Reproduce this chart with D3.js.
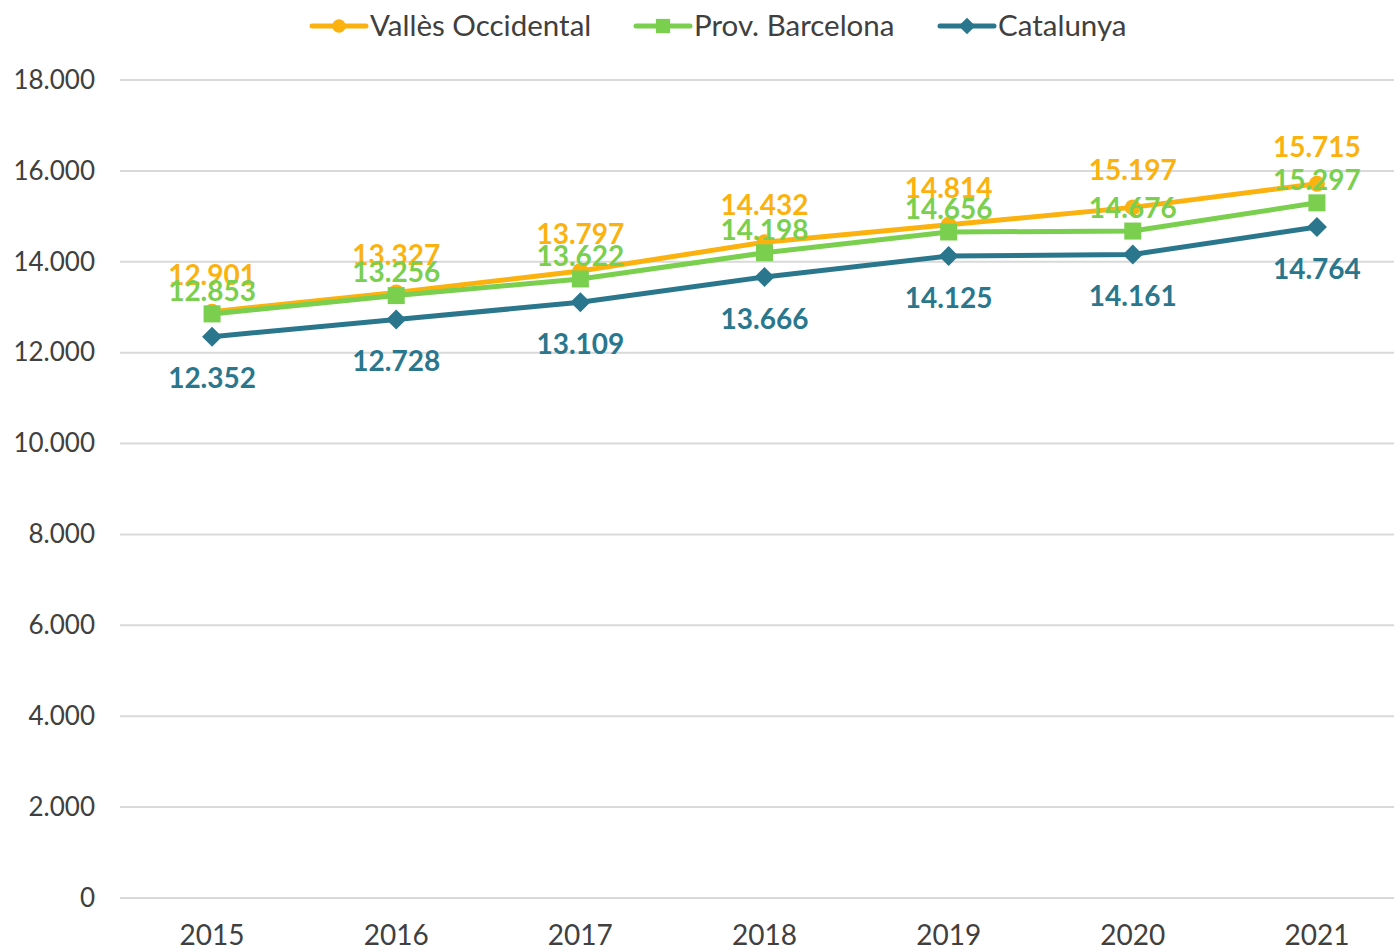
<!DOCTYPE html>
<html>
<head>
<meta charset="utf-8">
<script src="https://cdn.jsdelivr.net/npm/d3@7"></script>
<style>
  body { margin: 0; background: #fff; }
  text { font-family: Lato, "Open Sans", sans-serif; }
</style>
</head>
<body>
<script>
// data
const years = ["2015", "2016", "2017", "2018", "2019", "2020", "2021"];
const valles = [12901, 13327, 13797, 14432, 14814, 15197, 15715];
const barcelona = [12853, 13256, 13622, 14198, 14656, 14676, 15297];
const catalunya = [12352, 12728, 13109, 13666, 14125, 14161, 14764];
const yTicks = [0, 2000, 4000, 6000, 8000, 10000, 12000, 14000, 16000, 18000];

const series = [
  {name: "Vallès Occidental", values: valles, color: "#FBB20F", symbol: d3.symbolCircle, size: 200, rot: 0, dy: -37},
  {name: "Prov. Barcelona", values: barcelona, color: "#7BCF4F", symbol: d3.symbolSquare, size: 290, rot: 0, dy: -23},
  {name: "Catalunya", values: catalunya, color: "#2A778D", symbol: d3.symbolSquare, size: 200, rot: 45, dy: 42}
];

const canvWidth = 1394, canvHeight = 947;
const svg = d3.select("body").append("svg")
    .attr("width", canvWidth)
    .attr("height", canvHeight);

const fmt = d => d3.format(",")(d).replace(/,/g, ".");

const xScale = d3.scaleBand()
    .domain(years)
    .range([120, 1409]);

const yScale = d3.scaleLinear()
    .domain([0, 18000])
    .range([898, 80]);

// gridlines
svg.append("g").selectAll("line")
    .data(yTicks)
    .enter().append("line")
    .attr("x1", 120)
    .attr("x2", 1394)
    .attr("y1", d => yScale(d))
    .attr("y2", d => yScale(d))
    .attr("stroke", "#d9d9d9")
    .attr("stroke-width", 2);

// y axis labels
const yAxis = d3.axisLeft(yScale).tickValues(yTicks).tickFormat(fmt).tickSize(0).tickPadding(0);
const yg = svg.append("g")
    .attr("transform", "translate(95,0)")
    .call(yAxis);
yg.select(".domain").remove();
yg.selectAll("text")
    .attr("font-size", "26px")
    .attr("fill", "#404040")
    .style("font-family", "Lato");

// x axis labels
const xAxis = d3.axisBottom(xScale).tickSize(0).tickPadding(0);
const xg = svg.append("g")
    .attr("transform", "translate(0,925)")
    .call(xAxis);
xg.select(".domain").remove();
xg.selectAll("text")
    .attr("font-size", "28px")
    .attr("fill", "#404040")
    .style("font-family", "Lato");

const cx = (d, i) => xScale(years[i]) + xScale.bandwidth() / 2;

const line = d3.line()
    .x(cx)
    .y(d => yScale(d));

series.forEach(s => {
  svg.append("path")
      .datum(s.values)
      .attr("d", line)
      .attr("fill", "none")
      .attr("stroke", s.color)
      .attr("stroke-width", 5)
      .attr("stroke-linejoin", "round");

  svg.append("g").selectAll("path")
      .data(s.values)
      .enter().append("path")
      .attr("d", d3.symbol().type(s.symbol).size(s.size))
      .attr("transform", (d, i) => "translate(" + cx(d, i) + "," + yScale(d) + ") rotate(" + s.rot + ")")
      .attr("fill", s.color);
});

// data labels, drawn after all lines
series.forEach(s => {
  svg.append("g").selectAll("text")
      .data(s.values)
      .enter().append("text")
      .attr("x", cx)
      .attr("y", d => yScale(d) + s.dy)
      .attr("dy", "0.35em")
      .attr("text-anchor", "middle")
      .attr("font-size", "28px")
      .attr("font-weight", "bold")
      .attr("fill", s.color)
      .text(fmt);
});

// legend
const legendX = [312, 636, 940];
series.forEach((s, i) => {
  const lg = svg.append("g").attr("transform", "translate(" + legendX[i] + ",26)");
  lg.append("line")
      .attr("x1", 0).attr("x2", 54)
      .attr("stroke", s.color)
      .attr("stroke-width", 5)
      .attr("stroke-linecap", "round");
  lg.append("path")
      .attr("d", d3.symbol().type(s.symbol).size(s.size * 0.7))
      .attr("transform", "translate(27,0) rotate(" + s.rot + ")")
      .attr("fill", s.color);
  lg.append("text")
      .attr("x", 58)
      .attr("dy", "0.35em")
      .attr("font-size", "29.5px")
      .attr("fill", "#404040")
      .text(s.name);
});
</script>
</body>
</html>
